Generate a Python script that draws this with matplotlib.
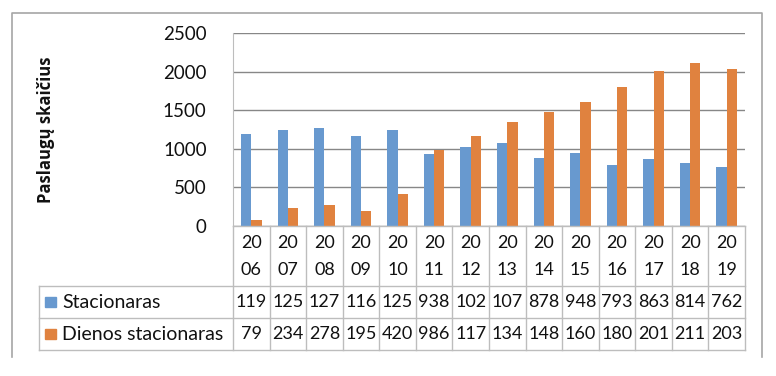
import matplotlib
matplotlib.use("Agg")
import matplotlib.pyplot as plt
import numpy as np

plt.rcParams["font.family"] = ["Lato", "DejaVu Sans"]

years = ["2006", "2007", "2008", "2009", "2010", "2011", "2012",
         "2013", "2014", "2015", "2016", "2017", "2018", "2019"]
stacionaras = [1195, 1250, 1275, 1165, 1250, 938, 1020,
               1075, 878, 948, 793, 863, 814, 762]
dienos = [79, 234, 278, 195, 420, 986, 1170,
          1345, 1480, 1605, 1800, 2010, 2115, 2030]
series_names = ["Stacionaras", "Dienos stacionaras"]

BLUE = "#6899CF"
ORANGE = "#E0823F"
GRID = "#878787"
CELL = "#BDBDBD"
FRAME = "#A6A6A6"

W, H = 776, 376
fig = plt.figure(figsize=(W / 100, H / 100), dpi=100)

# pixel layout
px_left, px_right = 233, 745
px_top, px_zero = 33, 226
row_edges = [226, 286, 318, 350]
legend_left = 39


def fx(x):
    return x / W


def fy(y):
    return 1 - y / H


ax = fig.add_axes((fx(px_left), fy(px_zero), fx(px_right - px_left),
                   (px_zero - px_top) / H))
n = len(years)
x = np.arange(n)
bw = 0.28
ax.bar(x - bw / 2, stacionaras, bw, color=BLUE, zorder=3)
ax.bar(x + bw / 2, dienos, bw, color=ORANGE, zorder=3)
ax.set_xlim(-0.5, n - 0.5)
ax.set_ylim(0, 2500)
ax.set_yticks(range(0, 2501, 500))
ax.yaxis.grid(True, color=GRID, linewidth=1.0, zorder=0)
ax.set_xticks([])
for side in ["top", "right", "bottom"]:
    ax.spines[side].set_visible(False)
ax.spines["left"].set_color(CELL)
ax.tick_params(axis="y", length=0, labelsize=13.5, pad=19, colors="#111111")

# overlay in pixel coordinates for the data table and chart frame
tax = fig.add_axes((0, 0, 1, 1))
tax.set_xlim(0, W)
tax.set_ylim(H, 0)
tax.axis("off")
tax.patch.set_visible(False)

tax.text(46, 130, "Paslaugų skaičius", rotation=90, ha="center",
         va="center", fontsize=12, fontweight="bold",
         family=["Open Sans", "DejaVu Sans"], color="#111111")

edges = np.linspace(px_left, px_right, n + 1)
lw = 1.0
# horizontal lines
tax.plot([px_left, px_right], [row_edges[0]] * 2, color=CELL, lw=lw)
for y in row_edges[1:]:
    tax.plot([legend_left, px_right], [y, y], color=CELL, lw=lw)
# vertical lines
for e in edges:
    tax.plot([e, e], [row_edges[0], row_edges[-1]], color=CELL, lw=lw)
tax.plot([legend_left, legend_left], [row_edges[1], row_edges[-1]],
         color=CELL, lw=lw)

centers = (edges[:-1] + edges[1:]) / 2
for c, yr in zip(centers, years):
    tax.text(c, 243, yr[:2], ha="center", va="center", fontsize=13,
             color="#111111")
    tax.text(c, 270, yr[2:], ha="center", va="center", fontsize=13,
             color="#111111")

rows = [stacionaras, dienos]
colors = [BLUE, ORANGE]
for r, (vals, name, col) in enumerate(zip(rows, series_names, colors)):
    yc = (row_edges[r + 1] + row_edges[r + 2]) / 2
    for c, v in zip(centers, vals):
        tax.text(c, yc, str(v)[:3], ha="center", va="center", fontsize=13,
                 color="#111111")
    tax.add_patch(plt.Rectangle((45, yc - 5), 11, 10, color=col))
    tax.text(62, yc, name, ha="left", va="center", fontsize=14,
             color="#111111")

# outer chart frame
tax.plot([12, 12, 762, 762], [357, 13, 13, 357], color=FRAME, lw=1.2)

fig.savefig("out.png", dpi=100)
